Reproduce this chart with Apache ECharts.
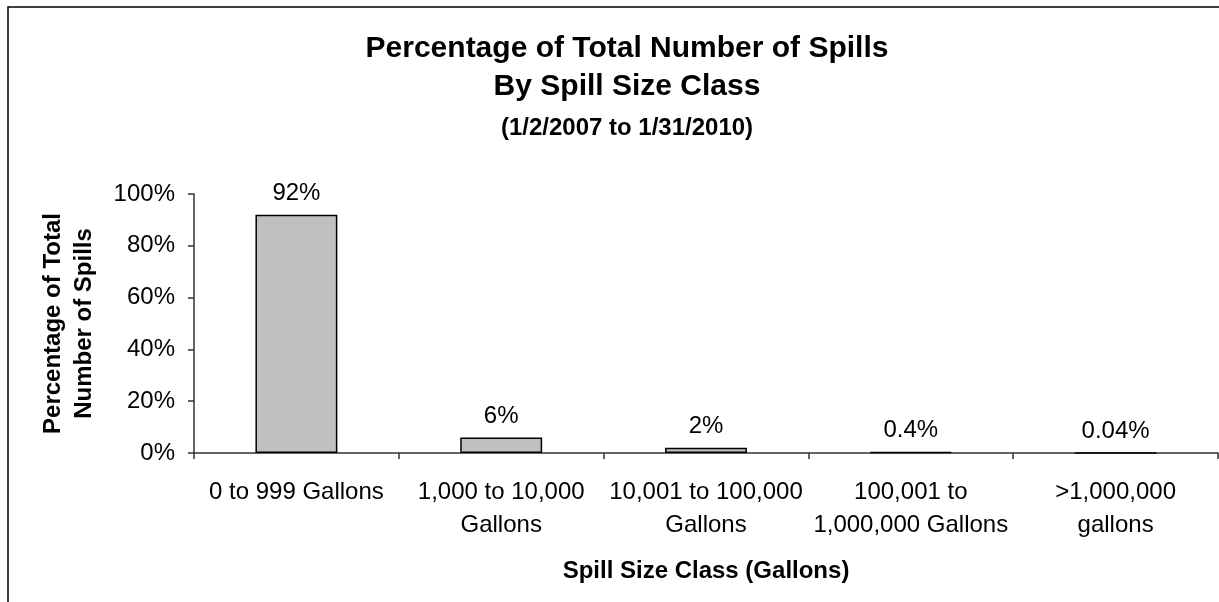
<!DOCTYPE html>
<html>
<head>
<meta charset="utf-8">
<title>Percentage of Total Number of Spills</title>
<script src="https://cdn.jsdelivr.net/npm/echarts@6/dist/echarts.min.js"></script>
<style>
  html, body { margin: 0; padding: 0; background: #fff; }
  #chart { width: 1219px; height: 602px; }
</style>
</head>
<body>
<div id="chart"></div>
<script>
// Spill size classes (x axis)
const sizeClasses = [
  '0 to 999 Gallons',
  '1,000 to 10,000\nGallons',
  '10,001 to 100,000\nGallons',
  '100,001 to\n1,000,000 Gallons',
  '>1,000,000\ngallons'
]
// Percent of total spills per class
const spillShare = [92, 6, 2, 0.4, 0.04]
// Y axis ticks (percent)
const yTicks = [0, 20, 40, 60, 80, 100]

const font = '"Liberation Sans", Arial, sans-serif'
const chart = echarts.init(document.getElementById('chart'))

const option = {
  backgroundColor: '#fff',
  animation: false,
  textStyle: { fontFamily: font, color: '#000' },
  title: [
    {
      text: 'Percentage of Total Number of Spills',
      left: 622, top: 29, textAlign: 'center',
      textStyle: { fontFamily: font, fontSize: 30, fontWeight: 'bold', color: '#000' }
    },
    {
      text: 'By Spill Size Class',
      left: 622, top: 67, textAlign: 'center',
      textStyle: { fontFamily: font, fontSize: 30, fontWeight: 'bold', color: '#000' }
    },
    {
      text: '(1/2/2007 to 1/31/2010)',
      left: 622, top: 111, textAlign: 'center',
      textStyle: { fontFamily: font, fontSize: 24, fontWeight: 'bold', color: '#000' }
    }
  ],
  graphic: [
    {
      type: 'rect',
      shape: { x: 8, y: 7, width: 1228, height: 700 },
      style: { fill: 'none', stroke: '#000', lineWidth: 1.5 },
      silent: true
    }
  ],
  grid: { left: 194, right: 1, top: 194, bottom: 149, containLabel: false },
  xAxis: {
    type: 'category',
    data: sizeClasses,
    name: 'Spill Size Class (Gallons)',
    nameLocation: 'middle',
    nameGap: 106,
    nameTextStyle: { fontFamily: font, fontSize: 24, fontWeight: 'bold', color: '#000' },
    axisLine: { lineStyle: { color: '#333', width: 1.5 } },
    axisTick: { show: true, length: 6, lineStyle: { color: '#333', width: 1.5 } },
    axisLabel: {
      fontFamily: font, fontSize: 24, color: '#000',
      lineHeight: 33, margin: 23, interval: 0
    }
  },
  yAxis: {
    type: 'value',
    min: yTicks[0],
    max: yTicks[yTicks.length - 1],
    interval: yTicks[1] - yTicks[0],
    name: 'Percentage of Total\nNumber of Spills',
    nameLocation: 'middle',
    nameGap: 94,
    nameTextStyle: { fontFamily: font, fontSize: 24, fontWeight: 'bold', color: '#000', lineHeight: 31 },
    axisLine: { show: true, lineStyle: { color: '#333', width: 1.5 } },
    axisTick: { show: true, length: 6, lineStyle: { color: '#333', width: 1.5 } },
    splitLine: { show: false },
    axisLabel: {
      fontFamily: font, fontSize: 24, color: '#000', margin: 19,
      formatter: '{value}%'
    }
  },
  series: [
    {
      type: 'bar',
      data: spillShare,
      barWidth: '40%',
      itemStyle: { color: '#c0c0c0', borderColor: '#000', borderWidth: 1.5 },
      label: {
        show: true,
        position: 'top',
        distance: 9,
        fontFamily: font,
        fontSize: 24,
        color: '#000',
        formatter: p => p.value + '%'
      }
    }
  ]
}

chart.setOption(option)
</script>
</body>
</html>
